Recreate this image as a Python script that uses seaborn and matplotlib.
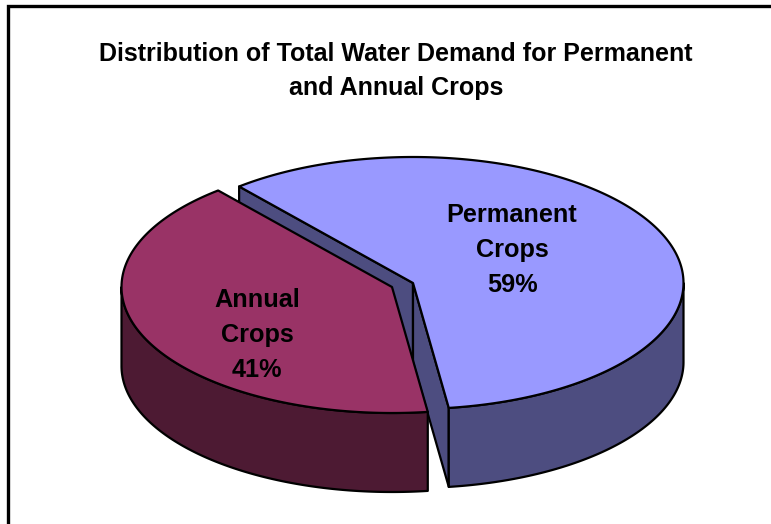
import numpy as np
import matplotlib
matplotlib.use("Agg")
import matplotlib.pyplot as plt
import seaborn as sns

categories = ["Permanent\nCrops", "Annual\nCrops"]
shares = [59, 41]
title = "Distribution of Total Water Demand for Permanent\nand Annual Crops"

sns.set_theme(style="white")
plt.rcParams["font.family"] = ["Liberation Sans", "DejaVu Sans"]
top_colors = sns.color_palette(["#9999FF", "#993366"])
side_colors = sns.color_palette(["#4D4D80", "#4D1A33"])

W, H = 771, 524
fig = plt.figure(figsize=(W / 100, H / 100), dpi=100, facecolor="white")
ax = fig.add_axes([0, 0, 1, 1])
ax.set_xlim(0, W)
ax.set_ylim(H, 0)
ax.axis("off")

RX, RY, DEPTH = 270.5, 126, 79
START = 130.0
EDGE = dict(edgecolor="black", linewidth=1.6, joinstyle="round")
sweep = 360 * np.array(shares) / sum(shares)


def arc(cx, cy, a0, a1, dy=0.0, n=240):
    t = np.radians(np.linspace(a0, a1, n))
    return cx + RX * np.cos(t), cy - RY * np.sin(t) + dy


def face(x, y, color, z):
    ax.fill(x, y, facecolor=color, zorder=z, **EDGE)


def outer_side(cx, cy, a0, a1, color, z):
    # only the part of the rim facing the viewer is drawn
    lo, hi = min(a0, a1), max(a0, a1)
    for k in (-360, 0, 360):
        l, h = max(lo, 180 + k), min(hi, 360 + k)
        if l < h:
            x, y = arc(cx, cy, l, h)
            xb, yb = arc(cx, cy, h, l, dy=DEPTH)
            face(np.r_[x, xb], np.r_[y, yb], color, z)


# Permanent crops slice: runs clockwise from START
cx, cy = 413, 283
a0, a1 = START, START - sweep[0]
sx, sy = arc(cx, cy, a0, a0, n=1)
ex, ey = arc(cx, cy, a1, a1, n=1)
face([sx[0], cx, cx, sx[0]], [sy[0], cy, cy + DEPTH, sy[0] + DEPTH], side_colors[0], 1)
face([cx, ex[0], ex[0], cx], [cy, ey[0], ey[0] + DEPTH, cy + DEPTH], side_colors[0], 1)
outer_side(cx, cy, a1, a0, side_colors[0], 1)
x, y = arc(cx, cy, a0, a1)
face(np.r_[cx, x], np.r_[cy, y], top_colors[0], 2)

# Annual crops slice: runs counter-clockwise from START
cx, cy = 392, 287
a0, a1 = START, START + sweep[1]
outer_side(cx, cy, a0, a1, side_colors[1], 3)
x, y = arc(cx, cy, a0, a1)
face(np.r_[cx, x], np.r_[cy, y], top_colors[1], 4)

# Frame: left and top edges only
ax.plot([7.5, 7.5, W], [H, 5.5, 5.5], color="black", lw=2.4, solid_joinstyle="miter", zorder=5)

ax.text(396, 71, title, ha="center", va="center", fontsize=18, fontweight="bold",
        color="black", linespacing=1.5, zorder=6)
for (cat, share), (tx, ty) in zip(zip(categories, shares), [(512, 250), (257, 335)]):
    ax.text(tx, ty, f"{cat}\n{share}%", ha="center", va="center", fontsize=18.2,
            fontweight="bold", color="black", linespacing=1.58, zorder=6)

fig.savefig("out.png", dpi=100, facecolor="white")
